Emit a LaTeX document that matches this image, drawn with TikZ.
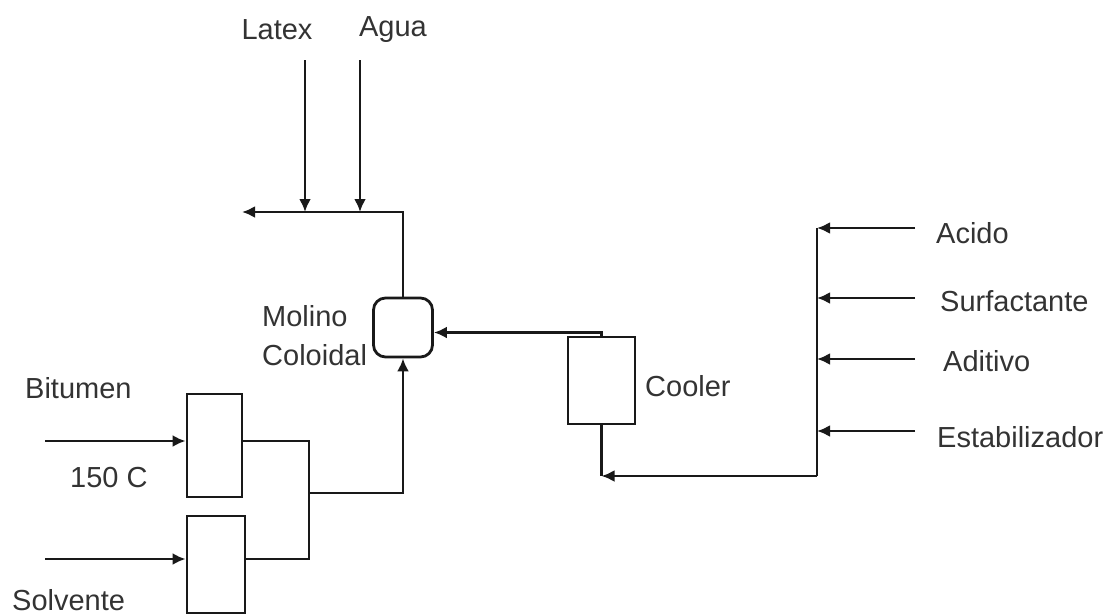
\documentclass[tikz,border=0pt]{standalone}
\usepackage{fontspec}
\setmainfont{Liberation Sans}
\usetikzlibrary{arrows.meta,calc}
\begin{document}
\begin{tikzpicture}[x=1pt,y=-1pt,
  line/.style={draw=black!90,line width=2.8pt},
  flow/.style={line,-{Latex[length=13pt,width=12pt]}},
  unit/.style={draw=black!90,line width=2.8pt,inner sep=0pt},
  lbl/.style={inner sep=0pt,text=black!80,font=\fontsize{29}{32}\selectfont}]
\useasboundingbox (0,0) rectangle (1117,616);
% labels
\node[lbl] (tlatex) at (277,30) {Latex};
\node[lbl] (tagua) at (393,30) {Agua};
\node[lbl,anchor=west] (tmol) at (262,316) {Molino};
\node[lbl,anchor=west] (tcol) at (262,355) {Coloidal};
\node[lbl,anchor=west] (tbit) at (25,388) {Bitumen};
\node[lbl,anchor=west] (t150) at (70,478) {150 C};
\node[lbl,anchor=west] (tsol) at (12,600) {Solvente};
\node[lbl,anchor=west] (tcool) at (645,386) {Cooler};
\node[lbl,anchor=west] (tac) at (936,233) {Acido};
\node[lbl,anchor=west] (tsur) at (940,301) {Surfactante};
\node[lbl,anchor=west] (tadi) at (943,361) {Aditivo};
\node[lbl,anchor=west] (test) at (937,437) {Estabilizador};
% units
\node[unit,minimum width=59pt,minimum height=59pt,rounded corners=12pt] (mill) at (403,327.5) {};
\node[unit,minimum width=55pt,minimum height=103pt] (box1) at (214.5,445.5) {};
\node[unit,minimum width=58pt,minimum height=97pt] (box2) at (216,564.5) {};
\node[unit,minimum width=67pt,minimum height=87pt] (cooler) at (601.5,380.5) {};
% coordinates
\coordinate (latexA) at (305,60);
\coordinate (latexB) at (305,212);
\coordinate (aguaA) at (360,60);
\coordinate (aguaB) at (360,212);
\coordinate (hdrEnd) at (242,212);
\coordinate (bitIn) at (45,441);
\coordinate (solIn) at (45,559);
\coordinate (merge) at (309,493);
\coordinate (busT) at (817,228);
\coordinate (busB) at (817,476);
\coordinate (acIn) at (915,228);
\coordinate (surIn) at (915,298);
\coordinate (adiIn) at (915,359);
\coordinate (estIn) at (915,431);
% top header
\draw[flow] (latexA) -- (latexB);
\draw[flow] (aguaA) -- (aguaB);
\draw[flow] (mill.north) |- (hdrEnd);
% feed side
\draw[flow] (bitIn) -- (bitIn -| box1.west);
\draw[flow] (solIn) -- (solIn -| box2.west);
\draw[line] (box1.east |- bitIn) -| (merge) |- (box2.east |- solIn);
\draw[flow] (merge) -| (mill.south);
% cooler
\draw[flow] (cooler.north) |- ([yshift=-5pt]mill.east);
\draw[line] (cooler.south) -- (cooler.south |- busB);
\draw[line] (busT) -- (busB);
\draw[flow] (busB) -- (cooler.south |- busB);
% additives
\draw[flow] (acIn) -- (acIn -| busT);
\draw[flow] (surIn) -- (surIn -| busT);
\draw[flow] (adiIn) -- (adiIn -| busT);
\draw[flow] (estIn) -- (estIn -| busT);
\end{tikzpicture}
\end{document}
